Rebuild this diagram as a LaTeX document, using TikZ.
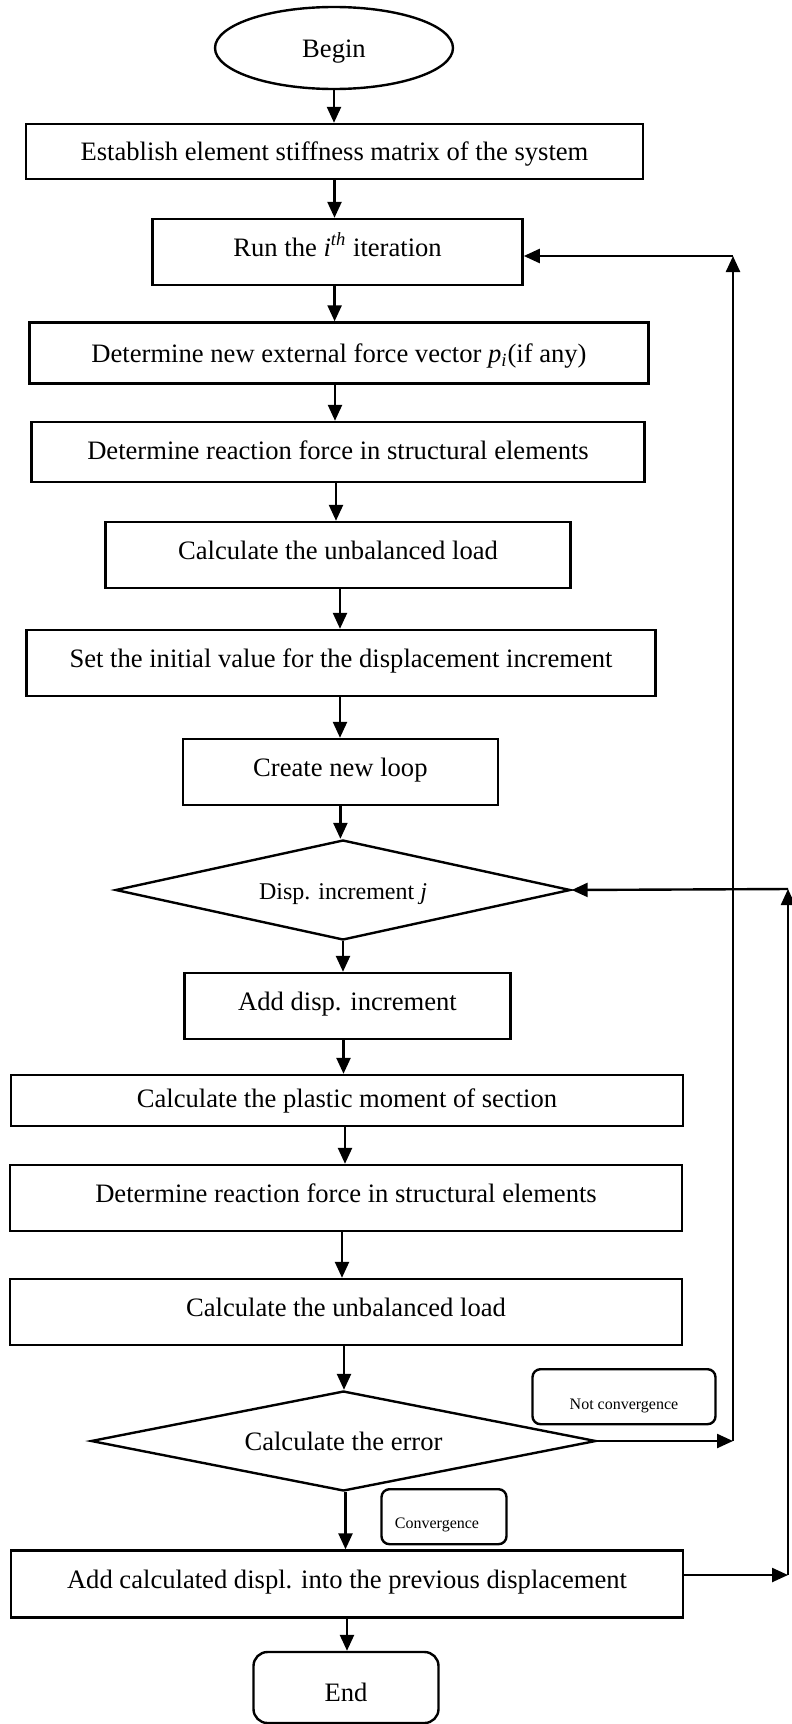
\documentclass[tikz,border=0pt]{standalone}
\usepackage{fontspec}
\setmainfont{Liberation Serif}
\usetikzlibrary{arrows.meta,shapes.geometric}
\begin{document}
\begin{tikzpicture}[x=0.5pt,y=-0.5pt,
  font=\fontsize{13.3}{16}\selectfont,
  box/.style={draw, line width=1.2pt, inner sep=0pt, text height=10pt, text depth=0.7pt},
  up/.style={text height=7.5pt, text depth=3.2pt},
  dia/.style={draw, line width=1.2pt, shape=diamond, inner sep=0pt, text height=10pt, text depth=0.7pt},
  lab/.style={draw, line width=1.2pt, rounded corners=4pt, inner sep=0pt, font=\fontsize{8}{9.6}\selectfont},
  arr/.style={line width=1.2pt, -{Triangle[length=8pt,width=7pt]}}
]
\useasboundingbox (0,0) rectangle (792,1724);

\node[box, shape=ellipse, minimum width=119pt, minimum height=41pt] (begin) at (334,48) {Begin};
\node[box, minimum width=308.5pt, minimum height=27.5pt] (est) at (334.5,151.5) {Establish element stiffness matrix of the system};
\node[box, up, minimum width=185pt, minimum height=33pt] (run) at (337.6,252) {Run the \textit{i}\textsuperscript{\textit{th}} iteration};
\node[box, minimum width=309.5pt, minimum height=30.5pt] (dnew) at (339,353) {Determine new external force vector \textit{p}\textsubscript{\textit{i}}(if any)};
\node[box, text height=9pt, text depth=1.7pt, minimum width=306.5pt, minimum height=30pt] (dre1) at (338,452) {Determine reaction force in structural elements};
\node[box, up, minimum width=232.5pt, minimum height=33pt] (cul1) at (338,555) {Calculate the unbalanced load};
\node[box, up, minimum width=314.5pt, minimum height=33pt] (set) at (341,663) {Set the initial value for the displacement increment};
\node[box, up, minimum width=157.5pt, minimum height=33pt] (loop) at (340.4,772) {Create new loop};
\node[dia, minimum width=227.5pt, minimum height=50pt, shape aspect=4.55] (dia1) at (343,890) {\fontsize{12}{14}\selectfont Disp. increment \textit{j}};
\node[box, up, minimum width=163pt, minimum height=33pt] (add) at (347.5,1006) {Add disp. increment};
\node[box, text height=9pt, text depth=1.7pt, minimum width=336pt, minimum height=25.5pt] (plas) at (347,1100.5) {Calculate the plastic moment of section};
\node[box, up, minimum width=336pt, minimum height=33pt] (dre2) at (346,1198) {Determine reaction force in structural elements};
\node[box, up, minimum width=336pt, minimum height=33pt] (cul2) at (346,1312) {Calculate the unbalanced load};
\node[dia, minimum width=252.5pt, minimum height=50pt, shape aspect=5.05] (dia2) at (343.5,1441) {Calculate the error};
\node[lab, text height=12.6pt, text depth=0pt, minimum width=91.5pt, minimum height=27.5pt] (notc) at (624,1396.7) {Not convergence};
\node[lab, text height=11.6pt, text depth=0pt, minimum width=62.5pt, minimum height=27.5pt] (conv) at (444,1516.7) {Convergence\hspace*{7pt}};
\node[box, up, minimum width=336pt, minimum height=33.5pt] (addc) at (347,1584) {Add calculated displ. into the previous displacement};
\node[box, rounded corners=7pt, text height=14.3pt, text depth=0pt, minimum width=92.5pt, minimum height=35.5pt] (end) at (346,1687.5) {End};

\draw[arr] (begin.south) -- (begin.south |- est.north);
\draw[arr] (est.south) -- (est.south |- run.north);
\draw[arr] ([xshift=-1.5pt]run.south) -- ([xshift=-1.5pt]run.south |- dnew.north);
\draw[arr] ([xshift=-2pt]dnew.south) -- ([xshift=-2pt]dnew.south |- dre1.north);
\draw[arr] ([xshift=-1pt]dre1.south) -- ([xshift=-1pt]dre1.south |- cul1.north);
\draw[arr] ([xshift=1pt]cul1.south) -- ([xshift=1pt]cul1.south |- set.north);
\draw[arr] ([xshift=-0.5pt]set.south) -- ([xshift=-0.5pt]set.south |- loop.north);
\draw[arr] (loop.south) -- (loop.south |- dia1.north);
\draw[arr] (dia1.south) -- (dia1.south |- add.north);
\draw[arr] ([xshift=-2pt]add.south) -- ([xshift=-2pt]add.south |- plas.north);
\draw[arr] ([xshift=-1pt]plas.south) -- ([xshift=-1pt]plas.south |- dre2.north);
\draw[arr] ([xshift=-2pt]dre2.south) -- ([xshift=-2pt]dre2.south |- cul2.north);
\draw[arr] ([xshift=-1pt]cul2.south) -- ([xshift=-1pt]cul2.south |- dia2.north);
\draw[arr] ([xshift=1pt]dia2.south) -- ([xshift=1pt]dia2.south |- addc.north);
\draw[arr] (addc.south) -- (addc.south |- end.north);

\coordinate (r1) at (733,1441);
\coordinate (r2) at (733,256);
\draw[arr] (dia2.east) -- (r1);
\draw[arr] (r1) -- (r2);
\draw[arr] (r2) -- (run.east |- r2);

\coordinate (o1) at (788,1575);
\coordinate (o2) at (788,889);
\draw[arr] (addc.east |- o1) -- (o1);
\draw[arr] (o1) -- (o2);
\draw[arr] (o2) -- (dia1.east);
\end{tikzpicture}
\end{document}
